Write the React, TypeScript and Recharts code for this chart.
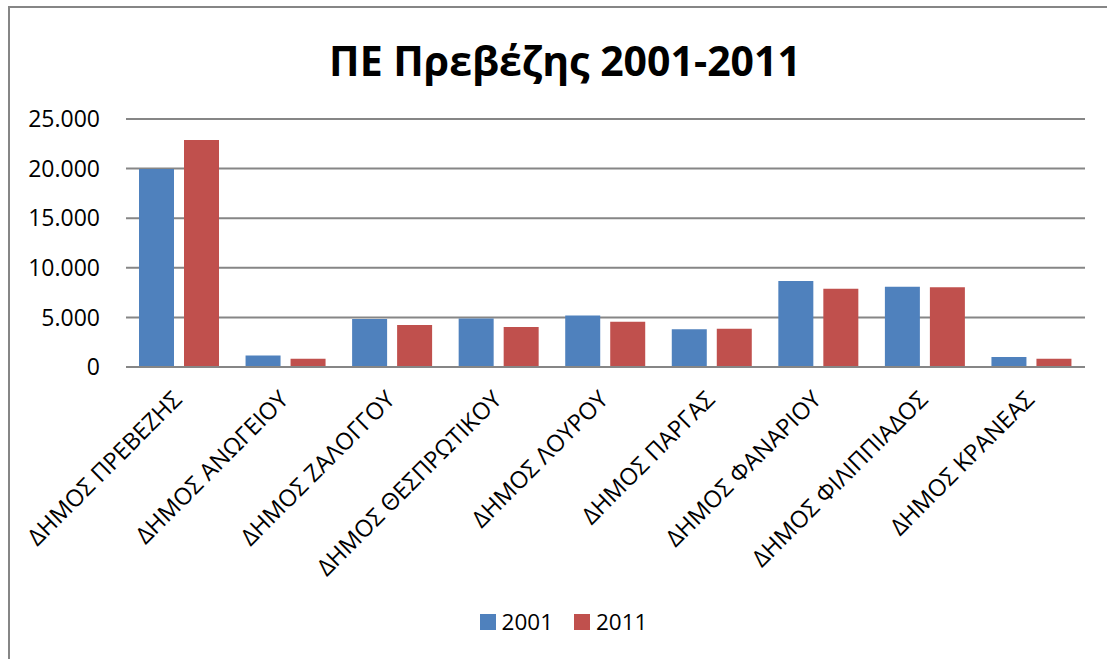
import { BarChart, Bar, XAxis, YAxis, CartesianGrid, Legend } from "recharts";

const categories = [
  "ΔΗΜΟΣ ΠΡΕΒΕΖΗΣ",
  "ΔΗΜΟΣ ΑΝΩΓΕΙΟΥ",
  "ΔΗΜΟΣ ΖΑΛΟΓΓΟΥ",
  "ΔΗΜΟΣ ΘΕΣΠΡΩΤΙΚΟΥ",
  "ΔΗΜΟΣ ΛΟΥΡΟΥ",
  "ΔΗΜΟΣ ΠΑΡΓΑΣ",
  "ΔΗΜΟΣ ΦΑΝΑΡΙΟΥ",
  "ΔΗΜΟΣ ΦΙΛΙΠΠΙΑΔΟΣ",
  "ΔΗΜΟΣ ΚΡΑΝΕΑΣ",
];

const values2001 = [19950, 1160, 4850, 4900, 5200, 3800, 8660, 8100, 1000];
const values2011 = [22880, 830, 4230, 4030, 4560, 3860, 7900, 8030, 830];

const yTicks = [0, 5000, 10000, 15000, 20000, 25000];

const seriesColors = { s2001: "#4F81BD", s2011: "#C0504D" };

const data = categories.map((name, i) => ({
  name,
  v2001: values2001[i],
  v2011: values2011[i],
}));

const font = "'Open Sans', sans-serif";

const formatThousands = (v: number) =>
  v === 0 ? "0" : v.toString().replace(/\B(?=(\d{3})+(?!\d))/g, ".");

const CategoryTick = (props: any) => {
  const { x, y, payload } = props;
  const ax = x + 4;
  return (
    <text
      x={ax}
      y={y}
      transform={`rotate(-45, ${ax}, ${y})`}
      textAnchor="end"
      fontFamily={font}
      fontSize={23.5}
      fill="#000"
    >
      {payload.value}
    </text>
  );
};

const LegendContent = () => (
  <div
    style={{
      display: "flex",
      justifyContent: "center",
      alignItems: "center",
      fontFamily: font,
      fontSize: 22.5,
      color: "#000",
      paddingLeft: 10,
    }}
  >
    <span style={{ width: 16, height: 16, background: seriesColors.s2001, marginRight: 6 }} />
    <span style={{ marginRight: 21 }}>2001</span>
    <span style={{ width: 16, height: 16, background: seriesColors.s2011, marginRight: 6 }} />
    <span>2011</span>
  </div>
);

export default function App() {
  return (
    <div
      style={{
        position: "absolute",
        left: 8,
        top: 6,
        width: 1110,
        height: 660,
        border: "2px solid #868686",
        background: "#fff",
      }}
    >
      <div
        style={{
          position: "absolute",
          top: 22,
          left: 0,
          width: 1110,
          textAlign: "center",
          fontFamily: font,
          fontWeight: 700,
          fontSize: 41,
          color: "#000",
          lineHeight: "60px",
        }}
      >
        ΠΕ Πρεβέζης 2001-2011
      </div>
      <BarChart
        width={1097}
        height={650}
        data={data}
        margin={{ top: 111, right: 22, left: 0, bottom: 0 }}
        barSize={35}
        barGap={10}
      >
        <CartesianGrid vertical={false} stroke="#868686" strokeWidth={2} />
        <YAxis
          width={116}
          domain={[0, 25000]}
          ticks={yTicks}
          tickFormatter={formatThousands}
          axisLine={false}
          tickLine={false}
          tickSize={0}
          tickMargin={26}
          tick={{ fill: "#000", fontSize: 23, fontFamily: font }}
        />
        <XAxis
          dataKey="name"
          height={260}
          interval={0}
          axisLine={{ stroke: "#868686", strokeWidth: 2 }}
          tickLine={false}
          tickSize={0}
          tickMargin={34}
          tick={<CategoryTick />}
        />
        <Legend
          content={<LegendContent />}
          wrapperStyle={{ top: 598, bottom: "auto", left: 0, width: 1097 }}
        />
        <Bar dataKey="v2001" name="2001" fill={seriesColors.s2001} isAnimationActive={false} />
        <Bar dataKey="v2011" name="2011" fill={seriesColors.s2011} isAnimationActive={false} />
      </BarChart>
    </div>
  );
}
